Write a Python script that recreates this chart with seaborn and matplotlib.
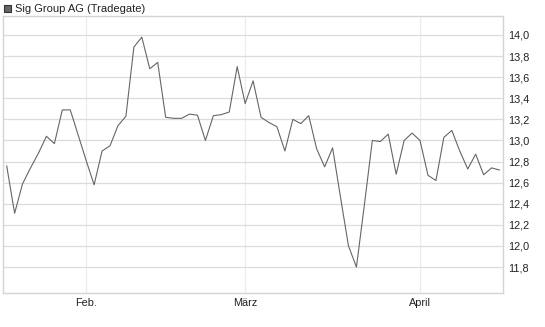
import matplotlib
matplotlib.use("Agg")
import matplotlib.pyplot as plt
from matplotlib.patches import Rectangle
from matplotlib.ticker import FuncFormatter
import seaborn as sns
import pandas as pd

title = "Sig Group AG (Tradegate)"
prices = [12.76, 12.31, 12.59, 12.74, 12.88, 13.04, 12.97, 13.29, 13.29, 13.05,
          12.81, 12.58, 12.90, 12.95, 13.14, 13.23, 13.885, 13.98, 13.68, 13.74,
          13.22, 13.21, 13.21, 13.25, 13.24, 13.00, 13.235, 13.245, 13.27, 13.70,
          13.35, 13.565, 13.22, 13.17, 13.13, 12.90, 13.20, 13.16, 13.235, 12.92,
          12.75, 12.93, 12.46, 12.00, 11.80, 12.39, 13.00, 12.99, 13.06, 12.68,
          13.00, 13.07, 13.00, 12.67, 12.62, 13.03, 13.095, 12.90, 12.73, 12.87,
          12.675, 12.74, 12.72]
trading_day = list(range(len(prices)))
month_labels = ["Feb.", "März", "April"]
month_first_day = [10, 30, 52]
y_ticks = [11.8, 12.0, 12.2, 12.4, 12.6, 12.8, 13.0, 13.2, 13.4, 13.6, 13.8, 14.0]

df = pd.DataFrame({"day": trading_day, "price": prices})

sns.set_style("white")
plt.rcParams["font.family"] = ["Liberation Sans", "DejaVu Sans"]

fig = plt.figure(figsize=(5.45, 3.27), dpi=100)
ax = fig.add_axes([2.7 / 545, 1 - 292.7 / 327, 500 / 545, (292.7 - 16) / 327])

sns.lineplot(data=df, x="day", y="price", ax=ax, color="#666666", linewidth=0.8)

ax.set_xlim(-0.5, 62.4)
ax.set_ylim(11.557, 14.18)
ax.set_xticks(month_first_day)
ax.set_xticklabels(month_labels)
ax.set_yticks(y_ticks)
ax.yaxis.set_major_formatter(FuncFormatter(lambda v, p: f"{v:.1f}".replace(".", ",")))
ax.yaxis.tick_right()
ax.set_xlabel("")
ax.set_ylabel("")

ax.grid(axis="y", color="#dcdcdc", linewidth=0.9)
ax.grid(axis="x", color="#ececec", linewidth=0.9)
for s in ax.spines.values():
    s.set_visible(True)
    s.set_color("#d4d4d4")
    s.set_linewidth(1.0)

ax.tick_params(axis="x", length=3, color="#dddddd", labelsize=7.8, pad=0.8, labelcolor="#222222")
ax.tick_params(axis="y", length=0, labelsize=7.8, pad=4, labelcolor="#222222", right=False, labelright=True, left=False, labelleft=False)

fig.patches.append(Rectangle((4 / 545, 1 - 12 / 327), 7 / 545, 7 / 327, transform=fig.transFigure,
                             facecolor="#666666", edgecolor="#333333", linewidth=0.8))
fig.text(15 / 545, 1 - 8.5 / 327, title, fontsize=8, va="center", ha="left", color="#222222")

fig.savefig("out.png", dpi=100)
